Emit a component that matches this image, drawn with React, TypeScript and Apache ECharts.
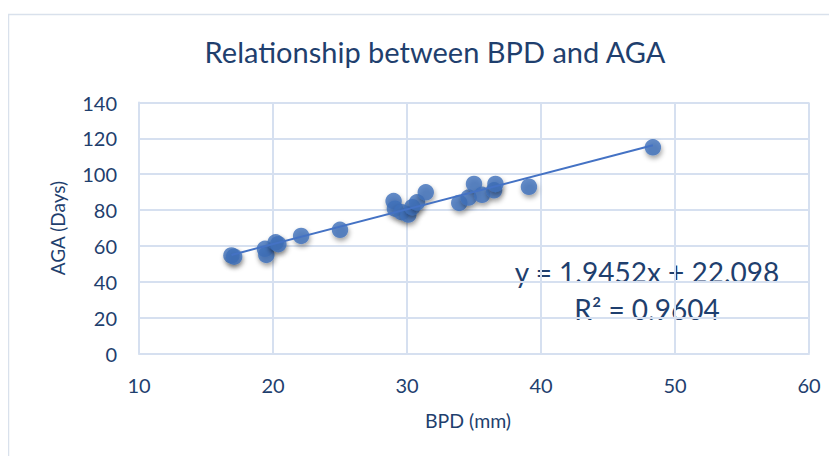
import React, { useEffect, useRef } from "react";
import * as echarts from "echarts";

const bpd = [16.9, 17.1, 19.4, 19.5, 20.2, 20.4, 22.1, 25.0, 29.0, 29.1, 29.6, 30.1, 30.4, 30.75, 31.4, 33.9, 34.6, 35.0, 35.6, 36.5, 36.6, 39.1, 48.35];
const aga = [54.7, 54.0, 58.4, 55.0, 62.0, 61.0, 65.6, 69.0, 85.0, 80.8, 78.8, 77.5, 81.6, 84.3, 89.9, 84.0, 87.0, 94.6, 88.5, 91.0, 94.6, 93.0, 115.0];
const slope = 1.9452;
const intercept = 22.098;
const xTicks = [10, 20, 30, 40, 50, 60];
const yTicks = [0, 20, 40, 60, 80, 100, 120, 140];

export default function App() {
  const ref = useRef<HTMLDivElement>(null);
  useEffect(() => {
    const chart = echarts.init(ref.current!, null, { renderer: "svg" });
    const pts = bpd.map((x, i) => [x, aga[i]]);
    const xMin = Math.min(...bpd);
    const xMax = Math.max(...bpd);
    const trend = [
      [xMin, slope * xMin + intercept],
      [xMax, slope * xMax + intercept],
    ];
    const font = "Lato, 'Open Sans', sans-serif";
    const txt = "#1F3F6E";
    chart.setOption({
      animation: false,
      backgroundColor: "#fff",
      title: {
        text: "Relationship between BPD and AGA",
        left: 430,
        textAlign: "center",
        top: 32,
        textStyle: { fontFamily: font, fontSize: 29, fontWeight: "normal", color: txt },
      },
      grid: { left: 139, right: 28, top: 102.5, bottom: 110.5 },
      xAxis: {
        type: "value",
        min: xTicks[0],
        max: xTicks[xTicks.length - 1],
        interval: 10,
        name: "BPD (mm)",
        nameLocation: "middle",
        nameGap: 57,
        nameTextStyle: { fontFamily: font, fontSize: 19.5, color: txt, padding: [0, 12, 0, 0] },
        axisLine: { show: true, lineStyle: { color: "#D6E0F0", width: 2 } },
        axisTick: { show: false },
        axisLabel: { fontFamily: font, fontSize: 20, color: txt, margin: 21 },
        splitLine: { show: true, lineStyle: { color: "#D6E0F0", width: 2 } },
      },
      yAxis: {
        type: "value",
        min: yTicks[0],
        max: yTicks[yTicks.length - 1],
        interval: 20,
        name: "AGA (Days)",
        nameLocation: "middle",
        nameGap: 72,
        nameTextStyle: { fontFamily: font, fontSize: 19, color: txt },
        axisLine: { show: true, lineStyle: { color: "#D6E0F0", width: 2 } },
        axisTick: { show: false },
        axisLabel: { fontFamily: font, fontSize: 20, color: txt, margin: 22 },
        splitLine: { show: true, lineStyle: { color: "#D6E0F0", width: 2 } },
      },
      graphic: [
        {
          type: "rect",
          shape: { x: 8.5, y: 14.5, width: 900, height: 500 },
          style: { fill: "none", stroke: "#D9E1EC", lineWidth: 1.5 },
          silent: true,
        },
        {
          type: "text",
          x: 647,
          y: 272,
          style: {
            text: "y = 1.9452x + 22.098",
            fontFamily: font,
            fontSize: 28,
            fill: txt,
            align: "center",
            verticalAlign: "middle",
          },
        },
        {
          type: "text",
          x: 647,
          y: 309,
          style: {
            text: "R² = 0.9604",
            fontFamily: font,
            fontSize: 28,
            fill: txt,
            align: "center",
            verticalAlign: "middle",
          },
        },
      ],
      series: [
        {
          type: "line",
          data: trend,
          symbol: "none",
          lineStyle: { color: "#4472C4", width: 2 },
          z: 3,
        },
        {
          type: "scatter",
          data: pts,
          symbol: "circle",
          symbolSize: 16.5,
          itemStyle: {
            color: "#3D6FBA",
            shadowColor: "rgba(0,0,0,0.45)",
            shadowBlur: 5,
            shadowOffsetX: 1,
            shadowOffsetY: 3,
          },
          z: 2,
        },
      ],
    });
    return () => chart.dispose();
  }, []);
  return <div ref={ref} style={{ width: 837, height: 464, margin: -8 }} />;
}
